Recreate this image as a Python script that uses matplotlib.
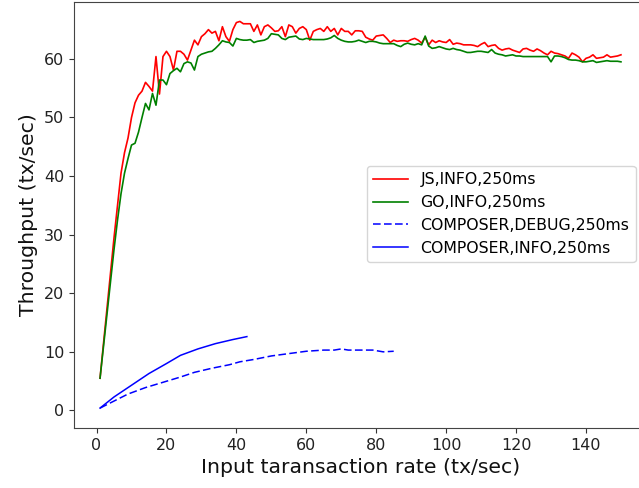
import matplotlib
matplotlib.use("Agg")
import matplotlib.pyplot as plt
import numpy as np

x_js = list(range(1, 151))
js_info = [5.5, 11.5, 17.5, 23.5, 29.5, 35.0, 40.5, 44.0, 46.5, 50.0,
           52.5, 53.8, 54.5, 56.0, 55.3, 54.5, 60.4, 54.0, 60.4, 61.3,
           60.4, 58.1, 61.3, 61.3, 60.8, 59.8, 61.5, 63.2, 62.4, 63.8,
           64.3, 65.0, 64.4, 64.7, 63.1, 65.5, 63.8, 63.0, 65.0, 66.2,
           66.4, 66.0, 66.0, 66.0, 64.7, 65.8, 64.1, 65.5, 65.8, 65.3,
           64.7, 64.8, 65.5, 63.8, 65.8, 65.5, 64.4, 65.2, 65.5, 65.0,
           63.2, 64.7, 65.0, 65.2, 64.7, 65.5, 64.7, 65.2, 64.1, 65.2,
           64.7, 64.7, 64.1, 64.8, 64.8, 64.7, 63.7, 63.4, 63.2, 63.9,
           64.0, 64.1, 63.5, 62.8, 63.2, 63.0, 63.1, 63.1, 63.0, 63.3,
           63.5, 63.2, 62.7, 63.7, 62.4, 63.2, 62.8, 63.1, 62.9, 62.8,
           63.3, 62.5, 62.7, 62.6, 62.4, 62.4, 62.4, 62.3, 62.1, 62.5,
           62.8, 62.1, 62.3, 62.4, 61.8, 61.5, 61.7, 61.8, 61.5, 61.3,
           61.1, 61.7, 61.8, 61.5, 61.3, 61.7, 61.4, 61.0, 60.7, 61.3,
           61.0, 60.9, 60.7, 60.5, 60.1, 61.0, 60.7, 60.3, 59.5, 60.1,
           60.3, 60.7, 60.1, 60.2, 60.3, 60.7, 60.3, 60.4, 60.5, 60.7]

x_go = list(range(1, 151))
go_info = [5.5, 11.0, 16.5, 22.0, 27.5, 32.5, 37.0, 40.5, 43.0, 45.3,
           45.6, 47.5, 50.0, 52.4, 51.3, 54.1, 52.1, 56.4, 56.4, 55.6,
           57.5, 58.0, 58.4, 57.8, 59.2, 59.5, 59.3, 58.1, 60.4, 60.8,
           61.0, 61.2, 61.3, 61.8, 62.4, 63.1, 62.9, 62.8, 62.2, 63.5,
           63.3, 63.2, 63.2, 63.3, 62.8, 63.0, 63.1, 63.2, 63.5, 64.3,
           64.2, 64.1, 63.5, 63.3, 63.7, 63.8, 63.9, 63.4, 63.3, 63.5,
           63.4, 63.3, 63.3, 63.3, 63.3, 63.4, 63.6, 64.0, 63.5, 63.2,
           63.0, 62.9, 62.9, 63.0, 63.2, 63.0, 62.8, 63.0, 63.0, 62.9,
           62.7, 62.6, 62.6, 62.6, 62.6, 62.3, 62.1, 62.5, 62.7, 62.5,
           62.4, 62.6, 62.4, 63.9, 62.2, 61.8, 61.9, 62.1, 61.9, 61.7,
           61.6, 61.8, 61.6, 61.5, 61.3, 61.1, 61.1, 61.2, 61.3, 61.3,
           61.2, 61.1, 61.6, 61.0, 60.8, 60.7, 60.5, 60.6, 60.7, 60.5,
           60.5, 60.4, 60.4, 60.4, 60.4, 60.4, 60.4, 60.4, 60.4, 59.5,
           60.5, 60.5, 60.4, 60.2, 59.9, 59.8, 59.8, 59.7, 59.5, 59.5,
           59.6, 59.7, 59.4, 59.5, 59.6, 59.7, 59.6, 59.6, 59.6, 59.5]

x_comp_debug = [1, 5, 9, 14, 19, 24, 28, 33, 38, 41, 45, 50, 55, 60, 65,
                68, 70, 72, 75, 79, 82, 85]
comp_debug = [0.4, 1.6, 2.8, 3.9, 4.8, 5.7, 6.5, 7.2, 7.8, 8.3, 8.7, 9.3,
              9.7, 10.1, 10.3, 10.3, 10.5, 10.3, 10.3, 10.3, 10.0, 10.1]

x_comp_info = [1, 5, 10, 15, 20, 24, 29, 34, 39, 43]
comp_info = [0.4, 2.3, 4.3, 6.3, 8.0, 9.4, 10.5, 11.4, 12.1, 12.6]

x_ticks = [0, 20, 40, 60, 80, 100, 120, 140]
y_ticks = [0, 10, 20, 30, 40, 50, 60]

fig = plt.figure(figsize=(6.39, 4.88), dpi=100)
ax = fig.add_axes([74/639, 60/488, (647-74)/639, (428-1.5)/488])

ax.plot(x_js, js_info, color='red', lw=1.2, label='JS,INFO,250ms')
ax.plot(x_go, go_info, color='green', lw=1.2, label='GO,INFO,250ms')
ax.plot(x_comp_debug, comp_debug, color='blue', lw=1.1, ls='--',
        dashes=(5, 2.2), label='COMPOSER,DEBUG,250ms')
ax.plot(x_comp_info, comp_info, color='blue', lw=1.1,
        label='COMPOSER,INFO,250ms')

ax.set_xlim(-6.45, 157.45)
ax.set_ylim(-3.0, 69.8)
ax.set_xticks(x_ticks)
ax.set_yticks(y_ticks)
ax.tick_params(labelsize=11.5, color='#333333', labelcolor='#222222')
for s in ax.spines.values():
    s.set_color('#444444')

ax.set_xlabel('Input taransaction rate (tx/sec)', fontsize=14.7, color='#111111')
ax.set_ylabel('Throughput (tx/sec)', fontsize=14.7, color='#111111')

ax.legend(loc='upper left', bbox_to_anchor=((367-74)/573, (488-166-60)/426.5),
          fontsize=11.3, handlelength=2.2, labelspacing=0.5, borderaxespad=0,
          frameon=True)

fig.savefig('out.png', dpi=100)
